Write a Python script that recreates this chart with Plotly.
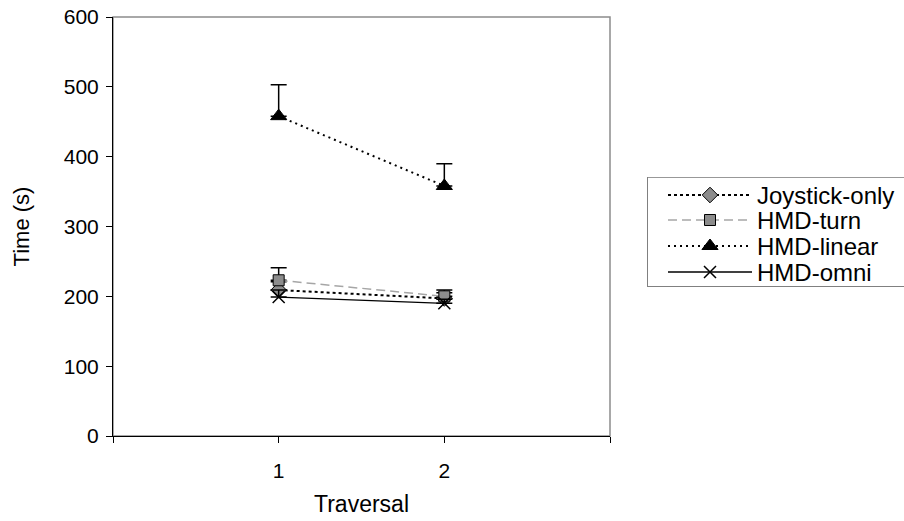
import plotly.graph_objects as go

traversal = [1, 2]
series_names = ["Joystick-only", "HMD-turn", "HMD-linear", "HMD-omni"]
joystick_only = [209, 197]
hmd_turn = [223, 200]
hmd_linear = [458, 358]
hmd_omni = [199, 190]
joystick_err = [12, 8]
turn_err = [18, 9]
linear_err = [45, 32]
omni_err = [10, 6]

y_ticks = [0, 100, 200, 300, 400, 500, 600]
x_ticks = [0, 1, 2, 3]
x_ticktext = ["", "1", "2", ""]

FONT = "Liberation Sans, Arial, sans-serif"

# figure geometry (pixels)
W, H = 904, 521
ML, MT, MB = 113, 17, 85
PW, PH = 497, 419          # plot area
PAPER_W = W - ML
# legend box (figure pixels)
LEG_X0, LEG_Y0, LEG_H = 647, 177, 110
LEG_W = W - LEG_X0

styles = [
    dict(values=joystick_only, err=joystick_err,
         line=dict(color="black", width=2, dash="3px,3px"),
         marker=dict(symbol="diamond", size=12, color="#8c8c8c", line=dict(color="black", width=1))),
    dict(values=hmd_turn, err=turn_err,
         line=dict(color="#a6a6a6", width=1.5, dash="9px,5px"),
         marker=dict(symbol="square", size=11, color="#8c8c8c", line=dict(color="black", width=1))),
    dict(values=hmd_linear, err=linear_err,
         line=dict(color="black", width=2, dash="2px,4px"),
         marker=dict(symbol="triangle-up", size=14, color="black", line=dict(color="black", width=1))),
    dict(values=hmd_omni, err=omni_err,
         line=dict(color="black", width=1.3),
         marker=dict(symbol="x-thin", size=12, color="black", line=dict(color="black", width=1.5))),
]

fig = go.Figure()
for name, st in zip(series_names, styles):
    fig.add_trace(go.Scatter(
        x=traversal, y=st["values"], name=name, mode="lines+markers",
        line=st["line"], marker=st["marker"], showlegend=False,
        error_y=dict(type="data", symmetric=False, array=st["err"],
                     arrayminus=[0] * len(st["err"]), color="black",
                     thickness=1.5, width=8),
        xaxis="x", yaxis="y",
    ))

# custom legend drawn in its own pixel-scaled axes
row_y = [18, 43, 69, 95]
sample_x0, sample_x1, text_x = 21, 105, 108
for name, st, ry in zip(series_names, styles, row_y):
    fig.add_trace(go.Scatter(
        x=[sample_x0, sample_x1], y=[ry, ry],
        mode="lines", line=st["line"],
        showlegend=False, hoverinfo="skip", xaxis="x2", yaxis="y2",
    ))
    fig.add_trace(go.Scatter(
        x=[(sample_x0 + sample_x1) / 2], y=[ry],
        mode="markers", marker=st["marker"],
        showlegend=False, hoverinfo="skip", xaxis="x2", yaxis="y2",
    ))
    fig.add_annotation(x=text_x, y=ry, xref="x2", yref="y2", text=name,
                       showarrow=False, xanchor="left", yanchor="middle",
                       font=dict(family=FONT, size=24, color="black"))

# legend frame (top thin dark, left/bottom gray)
fig.add_shape(type="line", xref="x2", yref="y2", x0=0, x1=LEG_W, y0=0, y1=0,
              line=dict(color="#333333", width=1))
fig.add_shape(type="line", xref="x2", yref="y2", x0=0, x1=0, y0=0, y1=LEG_H,
              line=dict(color="#808080", width=2))
fig.add_shape(type="line", xref="x2", yref="y2", x0=0, x1=LEG_W, y0=LEG_H, y1=LEG_H,
              line=dict(color="#808080", width=2))

# plot area frame (gray top/right)
fig.add_shape(type="rect", xref="x domain", yref="y domain", x0=0, y0=0, x1=1, y1=1,
              line=dict(color="#8c8c8c", width=1.5), layer="below")

leg_ybot = (PH - (LEG_Y0 - MT + LEG_H)) / PH
leg_ytop = (PH - (LEG_Y0 - MT)) / PH

fig.update_layout(
    width=W, height=H,
    margin=dict(l=ML, r=0, t=MT, b=MB, pad=0, autoexpand=False),
    paper_bgcolor="white", plot_bgcolor="white",
    font=dict(family=FONT, size=18, color="black"),
    showlegend=False,
    xaxis=dict(domain=[0, PW / PAPER_W], range=[0, 3], tickmode="array",
               tickvals=x_ticks, ticktext=x_ticktext,
               showgrid=False, zeroline=False, showline=True, linecolor="black",
               linewidth=1, ticks="outside", ticklen=6, tickcolor="black",
               tickfont=dict(family=FONT, size=21), ticklabeloverflow="allow",
               ticklabelstandoff=10, automargin=False,
               title=dict(text="Traversal", standoff=14, font=dict(family=FONT, size=23))),
    yaxis=dict(domain=[0, 1], range=[0, 600], tickmode="array", tickvals=y_ticks,
               showgrid=False, zeroline=False, showline=True, linecolor="black",
               linewidth=1, ticks="outside", ticklen=6, tickcolor="black",
               tickfont=dict(family=FONT, size=21), ticklabeloverflow="allow",
               ticklabelstandoff=3, automargin=False,
               title=dict(text="Time (s)", standoff=28, font=dict(family=FONT, size=22))),
    xaxis2=dict(domain=[(LEG_X0 - ML) / PAPER_W, 1], range=[0, LEG_W], visible=False,
                fixedrange=True),
    yaxis2=dict(domain=[leg_ybot, leg_ytop], range=[LEG_H, 0], visible=False,
                fixedrange=True, anchor="x2"),
)

fig.write_html("out.html", config={"displayModeBar": False},
               post_script="document.body.style.margin='0';document.body.style.overflow='hidden';")
